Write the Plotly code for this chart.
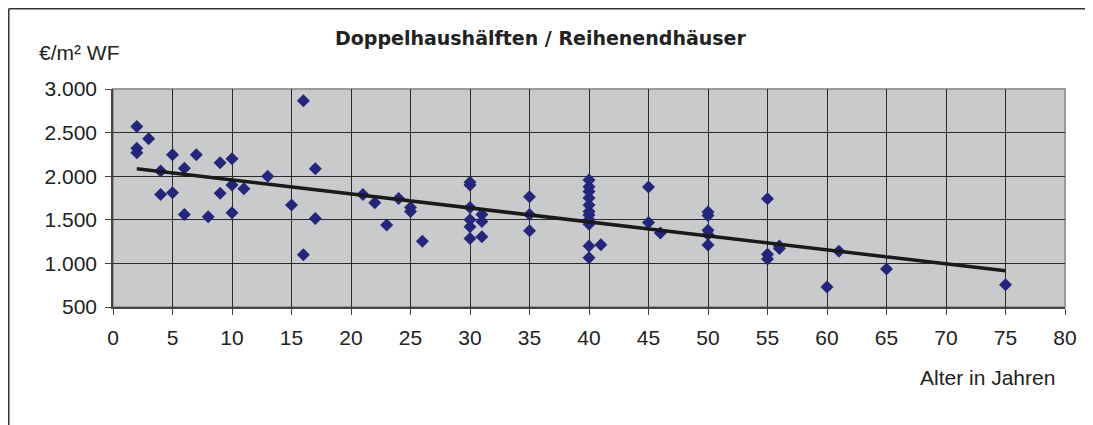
import plotly.graph_objects as go

# ---- data ----
ages = [2, 2, 2, 3, 4, 4, 5, 5, 6, 6, 7, 8, 9, 9, 10, 10, 10, 11, 13, 15, 16, 16, 17, 17,
        21, 22, 23, 24, 25, 25, 26,
        30, 30, 30, 30, 30, 30, 31, 31, 31,
        35, 35, 35,
        40, 40, 40, 40, 40, 40, 40, 40, 40, 40, 40, 41,
        45, 45, 46,
        50, 50, 50, 50, 50,
        55, 55, 55, 56, 56,
        60, 61, 65, 75]
prices = [2570, 2320, 2270, 2430, 2060, 1790, 2245, 1810, 2090, 1560, 2245, 1535, 2155, 1805, 2200, 1900, 1580, 1855, 2000, 1670, 2865, 1100, 2085, 1515,
          1790, 1695, 1440, 1745, 1640, 1595, 1255,
          1930, 1900, 1640, 1500, 1420, 1285, 1560, 1480, 1305,
          1765, 1560, 1375,
          1955, 1880, 1825, 1750, 1670, 1595, 1555, 1500, 1450, 1200, 1065, 1215,
          1875, 1470, 1350,
          1590, 1550, 1380, 1330, 1210,
          1740, 1105, 1050, 1200, 1170,
          730, 1140, 935, 755]

trend_x = [2, 75]
trend_y = [2085, 915]

x_ticks = list(range(0, 81, 5))
y_ticks = [500, 1000, 1500, 2000, 2500, 3000]
y_tick_labels = ["500", "1.000", "1.500", "2.000", "2.500", "3.000"]

title_text = "Doppelhaushälften / Reihenendhäuser"
y_label = "€/m² WF"
x_label = "Alter in Jahren"

# ---- layout geometry ----
OFF = 8                      # default page body margin
W, H = 1093 - OFF, 425 - OFF  # figure size that fits the window
PL, PT = 113, 89             # plot-area top-left in page pixels
PW, PH = 952, 218
L, T = PL - OFF, PT - OFF
R = W - L - PW
B = H - T - PH


def px_x(p):
    return (p - PL) / PW


def px_y(p):
    return (PT + PH - p) / PH


FONT = "Liberation Sans, Arial, sans-serif"
TXT = "#222222"

fig = go.Figure()
fig.add_trace(go.Scatter(
    x=ages, y=prices, mode="markers",
    marker=dict(symbol="diamond", size=10, color="#25267a",
                line=dict(width=0)),
    showlegend=False, hoverinfo="x+y"))
fig.add_trace(go.Scatter(
    x=trend_x, y=trend_y, mode="lines",
    line=dict(color="#1a1a1a", width=3.5),
    showlegend=False, hoverinfo="skip"))

axis_common = dict(
    showline=True, linecolor="#444444", linewidth=1.5,
    ticks="outside", ticklen=6, tickcolor="#444444", tickwidth=1,
    showgrid=True, gridcolor="#2a2a2a", gridwidth=1,
    zeroline=False,
    tickfont=dict(family=FONT, size=21, color=TXT),
)

fig.update_xaxes(range=[0, 80], tickvals=x_ticks, ticklabelstandoff=5,
                 **axis_common)
fig.update_yaxes(range=[500, 3000], tickvals=y_ticks, ticktext=y_tick_labels,
                 ticklabelstandoff=4, **axis_common)

shapes = [
    # plot-area frame (light grey top/right)
    dict(type="rect", xref="paper", yref="paper", x0=0, x1=1, y0=0, y1=1,
         line=dict(color="#9a9a9a", width=2), layer="between"),
    # chart border: top and left lines
    dict(type="line", xref="paper", yref="paper",
         x0=px_x(OFF + 0.75), x1=px_x(1100), y0=px_y(OFF + 0.75), y1=px_y(OFF + 0.75),
         line=dict(color="#333333", width=1.5)),
    dict(type="line", xref="paper", yref="paper",
         x0=px_x(OFF + 0.75), x1=px_x(OFF + 0.75), y0=px_y(OFF + 0.75), y1=px_y(440),
         line=dict(color="#333333", width=1.5)),
]

annotations = [
    dict(text="<b>" + title_text + "</b>", xref="paper", yref="paper",
         x=px_x(540), y=px_y(38), xanchor="center", yanchor="middle",
         showarrow=False, font=dict(family="DejaVu Sans, sans-serif", size=19, color=TXT)),
    dict(text=y_label, xref="paper", yref="paper",
         x=px_x(37), y=px_y(52), xanchor="left", yanchor="middle",
         showarrow=False, font=dict(family=FONT, size=21, color=TXT)),
    dict(text=x_label, xref="paper", yref="paper",
         x=px_x(1057), y=px_y(377), xanchor="right", yanchor="middle",
         showarrow=False, font=dict(family=FONT, size=21, color=TXT)),
]

fig.update_layout(
    width=W, height=H,
    margin=dict(l=L, r=R, t=T, b=B, pad=0),
    paper_bgcolor="white", plot_bgcolor="#c9cacc",
    shapes=shapes, annotations=annotations,
    font=dict(family=FONT, color=TXT),
    showlegend=False,
)

fig.write_html("out.html")
